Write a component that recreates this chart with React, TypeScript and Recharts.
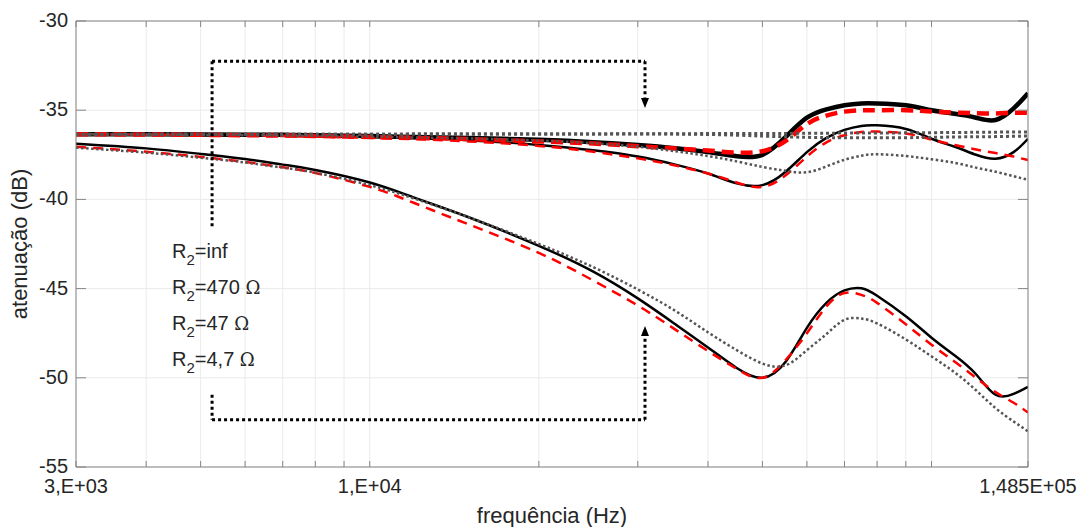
import {
  LineChart,
  Line,
  XAxis,
  YAxis,
  CartesianGrid,
  ReferenceLine,
  ReferenceDot,
} from "recharts";

const freq = [
  3000, 4000, 5000, 6000, 7000, 8000, 10000, 12000, 15000, 20000, 25000, 30000,
  35000, 40000, 45000, 50000, 55000, 60000, 65000, 70000, 75000, 80000, 90000,
  100000, 110000, 120000, 130000, 140000, 148500,
];

// R2 = inf (thick lines)
const blackInf = [
  -36.35, -36.35, -36.36, -36.37, -36.38, -36.4, -36.45, -36.5, -36.56, -36.66,
  -36.79, -36.95, -37.13, -37.35, -37.58, -37.5, -36.5, -35.42, -34.95, -34.72,
  -34.62, -34.62, -34.72, -35.0, -35.2, -35.42, -35.55, -34.9, -34.05,
];
const redInf = [
  -36.35, -36.36, -36.38, -36.4, -36.42, -36.44, -36.5, -36.55, -36.62, -36.75,
  -36.87, -37.02, -37.14, -37.26, -37.38, -37.3, -36.72, -35.78, -35.3, -35.08,
  -35.0, -35.0, -35.0, -35.08, -35.14, -35.17, -35.18, -35.15, -35.15,
];
const grayInf = [
  -36.35, -36.35, -36.35, -36.35, -36.35, -36.35, -36.35, -36.34, -36.34, -36.33,
  -36.33, -36.32, -36.32, -36.31, -36.31, -36.3, -36.3, -36.29, -36.29, -36.28,
  -36.28, -36.28, -36.27, -36.26, -36.25, -36.24, -36.23, -36.22, -36.22,
];
const grayFlat = [
  -36.35, -36.35, -36.35, -36.35, -36.35, -36.35, -36.35, -36.34, -36.34, -36.33,
  -36.33, -36.33, -36.34, -36.36, -36.4, -36.45, -36.49, -36.52, -36.54, -36.55,
  -36.55, -36.55, -36.54, -36.52, -36.5, -36.49, -36.48, -36.46, -36.45,
];

// R2 = 470 ohm
const black470 = [
  -36.35, -36.36, -36.38, -36.4, -36.42, -36.44, -36.5, -36.57, -36.68, -36.95,
  -37.25, -37.6, -38.05, -38.55, -39.1, -39.2, -38.45, -37.35, -36.55, -36.1,
  -35.88, -35.85, -36.05, -36.6, -37.05, -37.5, -37.72, -37.35, -36.6,
];
const red470 = [
  -36.35, -36.37, -36.39, -36.42, -36.45, -36.48, -36.55, -36.62, -36.75, -37.0,
  -37.33, -37.7, -38.1, -38.55, -39.05, -39.3, -38.65, -37.6, -36.8, -36.4,
  -36.22, -36.2, -36.3, -36.65, -36.95, -37.2, -37.4, -37.6, -37.8,
];
const gray470 = [
  -36.35, -36.36, -36.38, -36.4, -36.42, -36.44, -36.48, -36.53, -36.58, -36.7,
  -36.85, -37.05, -37.3, -37.57, -37.87, -38.18, -38.4, -38.48, -38.15, -37.78,
  -37.55, -37.47, -37.57, -37.75, -37.95, -38.22, -38.45, -38.7, -38.9,
];

// R2 = 4,7 ohm
const black47 = [
  -36.88, -37.14, -37.45, -37.74, -38.05, -38.35, -39.05, -39.9, -41.0, -42.6,
  -44.05, -45.55, -47.0, -48.3, -49.45, -50.0, -49.1, -47.2, -45.8, -45.1,
  -44.98, -45.4, -46.55, -47.75, -48.75, -49.8, -50.95, -50.9, -50.5,
];
const red47 = [
  -37.05, -37.33, -37.62, -37.9, -38.2, -38.52, -39.3, -40.2, -41.4, -43.0,
  -44.55, -45.95, -47.3, -48.5, -49.5, -50.0, -49.0, -47.5, -46.0, -45.25,
  -45.35, -45.8, -47.0, -48.15, -49.1, -50.0, -50.8, -51.4, -51.95,
];
const gray47 = [
  -37.1, -37.38, -37.66, -37.93, -38.22, -38.5, -39.2, -39.95, -41.0, -42.5,
  -43.8, -45.05, -46.25, -47.45, -48.45, -49.2, -49.3, -48.45, -47.55, -46.75,
  -46.68, -46.95, -47.85, -48.8, -49.7, -50.7, -51.7, -52.45, -53.0,
];

const xTicks = [
  3000, 4000, 5000, 6000, 7000, 8000, 9000, 10000, 20000, 30000, 40000, 50000,
  60000, 70000, 80000, 90000, 100000, 148500,
];
const xLabels: Record<number, string> = {
  3000: "3,E+03",
  10000: "1,E+04",
  148500: "1,485E+05",
};
const yTicks = [-55, -50, -45, -40, -35, -30];

const legendRows = ["=inf", "=470 ", "=47 ", "=4,7 "];
const legendX = 4446;
const legendY = [-43.28, -45.3, -47.32, -49.34];

// dotted brackets with arrows
const bracketX = [5240, 30900];
const topBracketY = [-41.5, -32.25, -34.3, -34.88];
const bottomBracketY = [-50.95, -52.35, -47.65, -47.1];

const AXIS = "#858585";
const TEXT = "#262626";
const FONT = "'Liberation Sans', Arial, sans-serif";

const data = freq.map((f, i) => ({
  f,
  blackInf: blackInf[i],
  redInf: redInf[i],
  grayInf: grayInf[i],
  grayFlat: grayFlat[i],
  black470: black470[i],
  red470: red470[i],
  gray470: gray470[i],
  black47: black47[i],
  red47: red47[i],
  gray47: gray47[i],
}));

const BottomTick = (props: any) => {
  const { x, y, payload } = props;
  const label = xLabels[payload.value];
  return (
    <g>
      <line x1={x} x2={x} y1={y} y2={y - 6} stroke={AXIS} />
      {label && (
        <text x={x} y={y + 26} textAnchor="middle" fontSize={20} fill={TEXT} fontFamily={FONT}>
          {label}
        </text>
      )}
    </g>
  );
};

const TopTick = (props: any) => {
  const { x, y } = props;
  return <line x1={x} x2={x} y1={y} y2={y + 6} stroke={AXIS} />;
};

const LeftTick = (props: any) => {
  const { x, y, payload } = props;
  return (
    <g>
      <line x1={x} x2={x + 10} y1={y} y2={y} stroke={AXIS} />
      <text x={x - 8} y={y + 6} textAnchor="end" fontSize={20} fill={TEXT} fontFamily={FONT}>
        {payload.value}
      </text>
    </g>
  );
};

const RightTick = (props: any) => {
  const { x, y } = props;
  return <line x1={x} x2={x - 10} y1={y} y2={y} stroke={AXIS} />;
};

const arrowDown = (p: any) => (
  <polygon
    points={`${p.cx},${p.cy} ${p.cx - 4},${p.cy - 10} ${p.cx + 4},${p.cy - 10}`}
    fill="#000"
  />
);
const arrowUp = (p: any) => (
  <polygon
    points={`${p.cx},${p.cy} ${p.cx - 4},${p.cy + 10} ${p.cx + 4},${p.cy + 10}`}
    fill="#000"
  />
);

const legendShape = (row: string) => (p: any) => (
  <text x={p.cx} y={p.cy} fontSize={20} fill={TEXT} fontFamily={FONT}>
    R
    <tspan dy={7} fontSize={15}>
      2
    </tspan>
    <tspan dy={-7}>{row}</tspan>
    {row.endsWith(" ") && (
      <tspan fontFamily="'DejaVu Serif', 'Liberation Serif', serif" fontSize={18}>
        Ω
      </tspan>
    )}
  </text>
);

const bracket = { stroke: "#000", strokeWidth: 3, strokeDasharray: "3 3" };

export default function App() {
  return (
    <div style={{ position: "absolute", left: 0, top: 0, background: "#fff" }}>
      <LineChart
        width={1080}
        height={527}
        data={data}
        margin={{ top: 0, right: 0, bottom: 0, left: 0 }}
      >
        <CartesianGrid stroke="#ebebeb" strokeWidth={1} />
        <XAxis
          dataKey="f"
          type="number"
          scale="log"
          domain={[3000, 148500]}
          allowDataOverflow
          ticks={xTicks}
          interval={0}
          height={60}
          tickSize={0}
          tickMargin={0}
          tickLine={false}
          tick={BottomTick}
          stroke={AXIS}
        />
        <XAxis
          xAxisId="top"
          orientation="top"
          dataKey="f"
          type="number"
          scale="log"
          domain={[3000, 148500]}
          allowDataOverflow
          ticks={xTicks}
          interval={0}
          height={21}
          tickSize={0}
          tickMargin={0}
          tickLine={false}
          tick={TopTick}
          stroke={AXIS}
        />
        <YAxis
          type="number"
          domain={[-55, -30]}
          allowDataOverflow
          ticks={yTicks}
          interval={0}
          width={76}
          tickSize={0}
          tickMargin={0}
          tickLine={false}
          tick={LeftTick}
          stroke={AXIS}
        />
        <YAxis
          yAxisId="right"
          orientation="right"
          type="number"
          domain={[-55, -30]}
          allowDataOverflow
          ticks={yTicks}
          interval={0}
          width={52}
          tickSize={0}
          tickMargin={0}
          tickLine={false}
          tick={RightTick}
          stroke={AXIS}
        />

        <Line dataKey="blackInf" type="natural" stroke="#000" strokeWidth={4.5} dot={false} isAnimationActive={false} />
        <Line dataKey="black470" type="natural" stroke="#000" strokeWidth={2.5} dot={false} isAnimationActive={false} />
        <Line dataKey="black47" type="natural" stroke="#000" strokeWidth={2.5} dot={false} isAnimationActive={false} />
        <Line dataKey="redInf" type="natural" stroke="#ff0000" strokeWidth={4.5} strokeDasharray="12 7" dot={false} isAnimationActive={false} />
        <Line dataKey="red470" type="natural" stroke="#ff0000" strokeWidth={2.5} strokeDasharray="10 7" dot={false} isAnimationActive={false} />
        <Line dataKey="red47" type="natural" stroke="#ff0000" strokeWidth={2.5} strokeDasharray="10 7" dot={false} isAnimationActive={false} />
        <Line dataKey="grayInf" type="natural" stroke="#555" strokeWidth={3} strokeDasharray="3 3" dot={false} isAnimationActive={false} />
        <Line dataKey="grayFlat" type="natural" stroke="#555" strokeWidth={3} strokeDasharray="3 3" dot={false} isAnimationActive={false} />
        <Line dataKey="gray470" type="natural" stroke="#555" strokeWidth={2.5} strokeDasharray="2.5 2.5" dot={false} isAnimationActive={false} />
        <Line dataKey="gray47" type="natural" stroke="#555" strokeWidth={2.5} strokeDasharray="2.5 2.5" dot={false} isAnimationActive={false} />

        <ReferenceLine segment={[{ x: bracketX[0], y: topBracketY[0] }, { x: bracketX[0], y: topBracketY[1] }]} {...bracket} />
        <ReferenceLine segment={[{ x: bracketX[0], y: topBracketY[1] }, { x: bracketX[1], y: topBracketY[1] }]} {...bracket} />
        <ReferenceLine segment={[{ x: bracketX[1], y: topBracketY[1] }, { x: bracketX[1], y: topBracketY[2] }]} {...bracket} />
        <ReferenceDot x={bracketX[1]} y={topBracketY[3]} r={0} shape={arrowDown} />

        <ReferenceLine segment={[{ x: bracketX[0], y: bottomBracketY[0] }, { x: bracketX[0], y: bottomBracketY[1] }]} {...bracket} />
        <ReferenceLine segment={[{ x: bracketX[0], y: bottomBracketY[1] }, { x: bracketX[1], y: bottomBracketY[1] }]} {...bracket} />
        <ReferenceLine segment={[{ x: bracketX[1], y: bottomBracketY[1] }, { x: bracketX[1], y: bottomBracketY[2] }]} {...bracket} />
        <ReferenceDot x={bracketX[1]} y={bottomBracketY[3]} r={0} shape={arrowUp} />

        {legendRows.map((row, i) => (
          <ReferenceDot key={row} x={legendX} y={legendY[i]} r={0} shape={legendShape(row)} />
        ))}
      </LineChart>
      <svg
        width={1080}
        height={527}
        style={{ position: "absolute", left: 0, top: 0, pointerEvents: "none" }}
      >
        <text
          x={27}
          y={244}
          transform="rotate(-90, 27, 244)"
          textAnchor="middle"
          fontSize={22}
          fill={TEXT}
          fontFamily={FONT}
        >
          atenuação (dB)
        </text>
        <text x={552} y={523} textAnchor="middle" fontSize={22} fill={TEXT} fontFamily={FONT}>
          frequência (Hz)
        </text>
      </svg>
    </div>
  );
}
